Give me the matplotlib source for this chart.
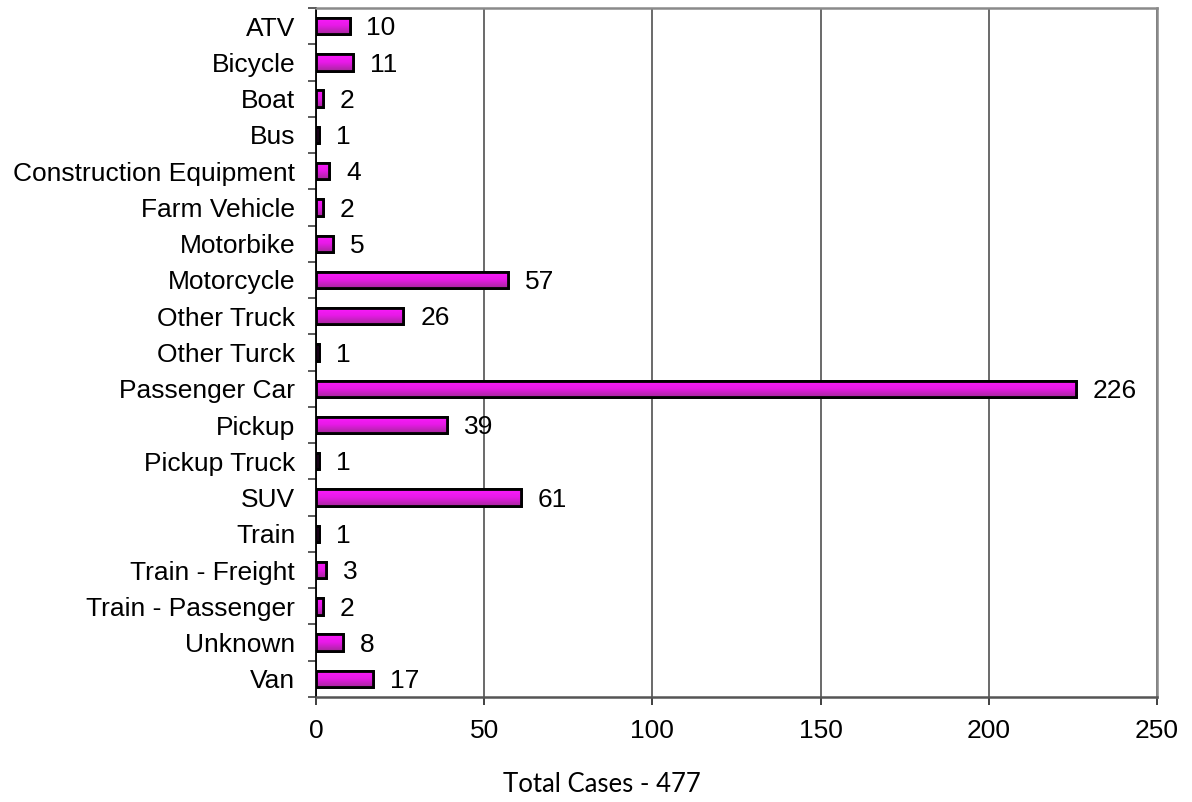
import matplotlib.pyplot as plt
import numpy as np
from matplotlib.colors import LinearSegmentedColormap

vehicles = ['ATV', 'Bicycle', 'Boat', 'Bus', 'Construction Equipment', 'Farm Vehicle',
            'Motorbike', 'Motorcycle', 'Other Truck', 'Other Turck', 'Passenger Car',
            'Pickup', 'Pickup Truck', 'SUV', 'Train', 'Train - Freight',
            'Train - Passenger', 'Unknown', 'Van']
cases = [10, 11, 2, 1, 4, 2, 5, 57, 26, 1, 226, 39, 1, 61, 1, 3, 2, 8, 17]
total_label = 'Total Cases - 477'


def main():
    fig = plt.figure(figsize=(11.92, 8.02), dpi=100)
    ax = fig.add_axes([316/1192, 1-697/802, (1157-316)/1192, (697-8)/802])

    y = np.arange(len(vehicles))
    bars = ax.barh(y, cases, height=0.45, color='#E61AE6', edgecolor='black',
                   linewidth=2.0, zorder=3)

    # vertical gradient inside each bar
    cmap = LinearSegmentedColormap.from_list('mag', ['#FF1AFF', '#E61AE6', '#A8279E'])
    grad = np.linspace(0, 1, 64).reshape(-1, 1)
    for b in bars:
        x0, y0 = b.get_x(), b.get_y()
        w, h = b.get_width(), b.get_height()
        im = ax.imshow(grad, cmap=cmap, aspect='auto', extent=(x0, x0 + w, y0 + h, y0),
                       zorder=3.5, interpolation='bilinear')
        im.set_clip_path(b)
        ax.barh(b.get_y() + h/2, w, height=h, fill=False, edgecolor='black',
                linewidth=2.0, zorder=4)

    for yi, v in zip(y, cases):
        ax.text(v + 5.0, yi + 0.06, str(v), va='center', ha='left', fontsize=19,
                family='Liberation Sans', zorder=5)

    ax.set_xlim(0, 250)
    ax.set_ylim(len(vehicles) - 0.5, -0.5)
    ax.set_xticks([0, 50, 100, 150, 200, 250])
    ax.set_yticks(y)
    ax.set_yticklabels(vehicles, fontsize=19, family='Liberation Sans')
    for lab in ax.get_xticklabels():
        lab.set_fontsize(19)
        lab.set_family('Liberation Sans')

    # category boundary ticks on the left
    ax.set_yticks(np.arange(len(vehicles) + 1) - 0.5, minor=True)
    ax.tick_params(axis='y', which='major', length=0, pad=15)
    ax.tick_params(axis='y', which='minor', length=6, width=1.2, color='#404040')
    ax.tick_params(axis='x', length=6, width=1.2, color='#202020', pad=10)

    ax.grid(axis='x', color='#505050', linewidth=1.2, zorder=0)
    ax.spines['left'].set_color('black')
    ax.spines['left'].set_linewidth(1.3)
    ax.spines['bottom'].set_color('#555555')
    ax.spines['bottom'].set_linewidth(1.8)
    for s in ['top', 'right']:
        ax.spines[s].set_color('#8a8a8a')
        ax.spines[s].set_linewidth(1.8)

    fig.text(602/1192, 1 - 785/802, total_label, ha='center', va='center',
             fontsize=18.5, family='Lato')

    fig.savefig('out.png', dpi=100)


if __name__ == '__main__':
    main()
